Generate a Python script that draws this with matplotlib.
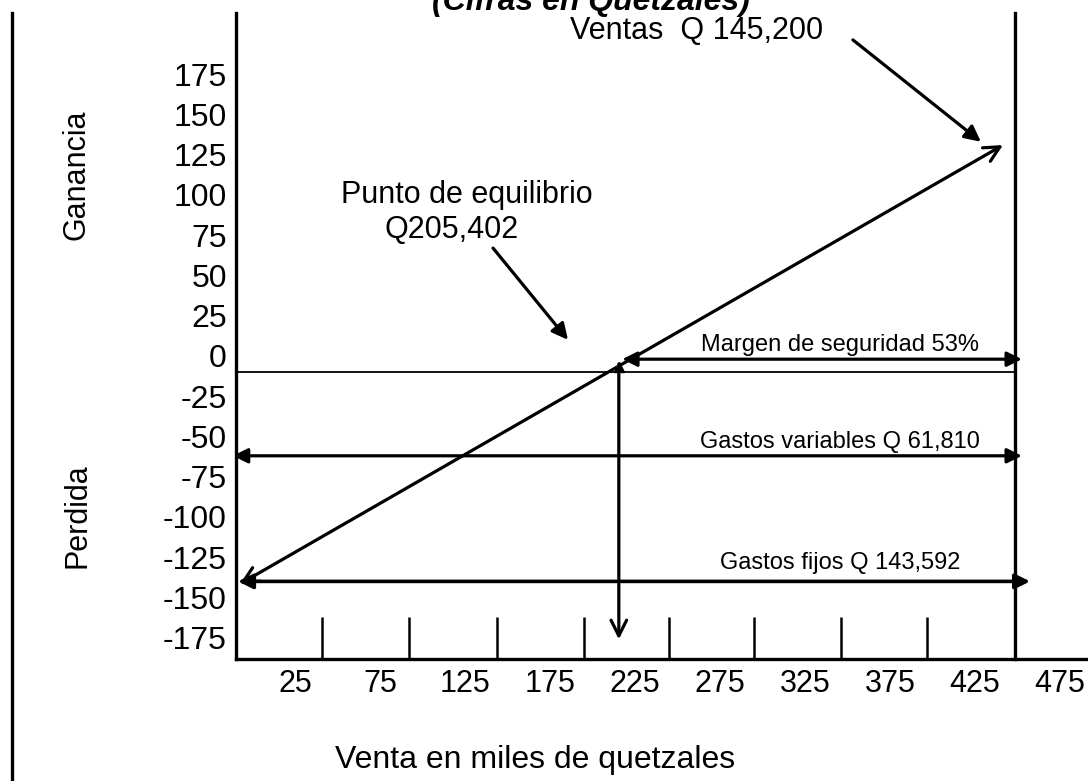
import matplotlib
matplotlib.use("Agg")
import matplotlib.pyplot as plt
from matplotlib.lines import Line2D

plt.rcParams['font.family'] = ['Liberation Sans', 'DejaVu Sans']

# ---------------- data ----------------
y_tick_values = [175, 150, 125, 100, 75, 50, 25, 0, -25, -50, -75, -100, -125, -150, -175]
x_tick_values = [25, 75, 125, 175, 225, 275, 325, 375, 425, 475]
x_tick_labels = ['25', '75', '125', '175', '225', '275', '325', '375', '425', '475']
tick_mark_x = [41, 92, 144, 195, 245, 295, 346, 397]

sales_x = [-7.4, 441.5]
sales_y = [-141.6, 131.0]
break_even_x = 215.5
break_even_y = [-5, -176]
sales_level_x = 448.5          # right vertical line (actual sales)
zero_line_y = -10
margin_y = -2
variable_y = -62
fixed_y = -140

title = '(Cifras en Quetzales)'
ventas_label = 'Ventas  Q 145,200'
punto_label_1 = 'Punto de equilibrio'
punto_label_2 = 'Q205,402'
margin_label = 'Margen de seguridad 53%'
variable_label = 'Gastos variables Q 61,810'
fixed_label = 'Gastos fijos Q 143,592'
x_label = 'Venta en miles de quetzales'
gain_label = 'Ganancia'
loss_label = 'Perdida'

# ---------------- figure ----------------
W, H = 1088, 781
fig = plt.figure(figsize=(W / 100, H / 100), dpi=100)
ax = fig.add_axes([236 / W, 1 - 659 / H, 1 - 236 / W, (659 - 13) / H])
XMIN, XMAX = -9.7, 491.5
YMIN, YMAX = -188.2, 213.0
ax.set_xlim(XMIN, XMAX)
ax.set_ylim(YMIN, YMAX)

for s in ['top', 'right']:
    ax.spines[s].set_visible(False)
for s in ['left', 'bottom']:
    ax.spines[s].set_linewidth(2.4)

ax.set_yticks(y_tick_values)
ax.set_yticklabels([str(v) for v in y_tick_values])
ax.tick_params(axis='y', length=0, pad=6.5, labelsize=23)
ax.set_xticks(x_tick_values)
ax.set_xticklabels(x_tick_labels)
ax.tick_params(axis='x', length=0, pad=7.5, labelsize=22)

# vertical tick marks along the bottom
ax.vlines(tick_mark_x, YMIN, -162, colors='black', lw=1.8)
# right vertical line
ax.plot([sales_level_x, sales_level_x], [YMIN, YMAX], color='black', lw=2.4, clip_on=False)
# thin horizontal line
ax.plot([XMIN, sales_level_x], [zero_line_y, zero_line_y], color='black', lw=1.3)

# sales line
ax.annotate('', xy=(sales_x[1], sales_y[1]), xytext=(sales_x[0], sales_y[0]),
            arrowprops=dict(arrowstyle='<->', lw=2.3, color='black', mutation_scale=28,
                            shrinkA=0, shrinkB=0), annotation_clip=False)

# horizontal double arrows
ax.annotate('', xy=(452.6, margin_y), xytext=(217.5, margin_y),
            arrowprops=dict(arrowstyle='<|-|>', lw=2.3, color='black', mutation_scale=22,
                            shrinkA=0, shrinkB=0), annotation_clip=False)
ax.annotate('', xy=(452.6, variable_y), xytext=(-11.5, variable_y),
            arrowprops=dict(arrowstyle='<|-|>', lw=2.3, color='black', mutation_scale=22,
                            shrinkA=0, shrinkB=0), annotation_clip=False)
ax.annotate('', xy=(457.4, fixed_y), xytext=(-8.5, fixed_y),
            arrowprops=dict(arrowstyle='<|-|>', lw=2.6, color='black', mutation_scale=22,
                            shrinkA=0, shrinkB=0), annotation_clip=False)

# break-even vertical arrow
ax.annotate('', xy=(break_even_x, break_even_y[1]), xytext=(break_even_x, break_even_y[0]),
            arrowprops=dict(arrowstyle='->', lw=2.3, color='black', mutation_scale=28,
                            shrinkA=0, shrinkB=0), annotation_clip=False)
ax.plot([break_even_x], [break_even_y[0] - 2], marker='^', ms=7, color='black')

# labels inside
ax.text(345.6, 6.8, margin_label, ha='center', va='center', fontsize=17)
ax.text(345.6, -53.4, variable_label, ha='center', va='center', fontsize=17)
ax.text(345.6, -128.6, fixed_label, ha='center', va='center', fontsize=17)

ax.text(126, 100, punto_label_1, ha='center', va='center', fontsize=22)
ax.text(117.4, 78.3, punto_label_2, ha='center', va='center', fontsize=22)
ax.annotate('', xy=(185.6, 10), xytext=(141.5, 67),
            arrowprops=dict(arrowstyle='-|>', lw=2.3, color='black', mutation_scale=24,
                            shrinkA=0, shrinkB=0), annotation_clip=False)

ax.text(261, 202, ventas_label, ha='center', va='center', fontsize=22)
ax.annotate('', xy=(428.5, 133), xytext=(353.2, 196.3),
            arrowprops=dict(arrowstyle='-|>', lw=2.3, color='black', mutation_scale=24,
                            shrinkA=0, shrinkB=0), annotation_clip=False)

# figure-level texts
fig.add_artist(Line2D([12 / W, 12 / W], [0, 1 - 13 / H], color='black', lw=2.4))
fig.text(77 / W, 1 - 175 / H, gain_label, rotation=90, ha='center', va='center', fontsize=22)
fig.text(77 / W, 1 - 516 / H, loss_label, rotation=90, ha='center', va='center', fontsize=22)
fig.text(535 / W, 1 - 760 / H, x_label, ha='center', va='center', fontsize=23)
fig.text(591 / W, 1 - 10 / H, title, ha='center', va='baseline', fontsize=23,
         fontweight='bold', fontstyle='italic')

fig.savefig('out.png', dpi=100)
